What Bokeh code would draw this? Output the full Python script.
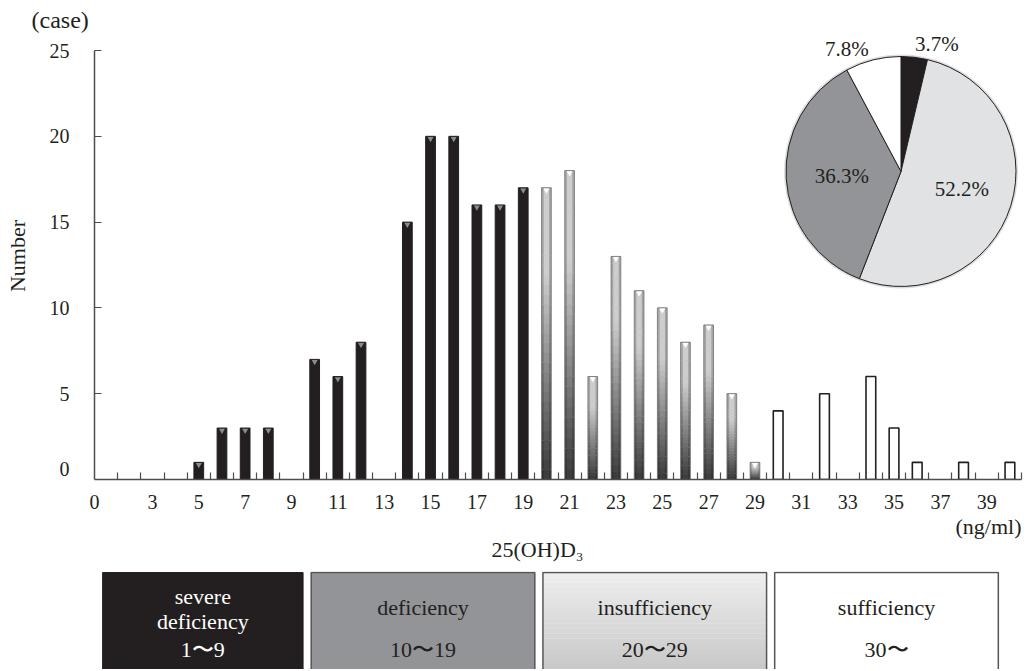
import numpy as np
from bokeh.plotting import figure
from bokeh.models import Range1d, FixedTicker, Label, Title, CustomJSTickFormatter
from bokeh.layouts import column
from bokeh.embed import file_html
from bokeh.resources import INLINE

# ---------------- data ----------------
levels = list(range(1, 41))  # 25(OH)D3 in ng/ml
counts = [0, 0, 0, 0, 1, 3, 3, 3, 0, 7,
          6, 8, 0, 15, 20, 20, 16, 16, 17, 17,
          18, 6, 13, 11, 10, 8, 9, 5, 1, 4,
          0, 5, 0, 6, 3, 1, 0, 1, 0, 1]
x_tick_values = list(range(3, 40, 2))
y_tick_values = [5, 10, 15, 20, 25]

gradient_from = 20   # bars from here are drawn with gradient
white_from = 30      # bars from here are drawn white

pie_labels = ["3.7%", "52.2%", "36.3%", "7.8%"]
pie_values = [3.7, 52.2, 36.3, 7.8]
pie_colors = ["#231f20", "#e1e2e4", "#939497", "#ffffff"]

group_names = [["severe", "deficiency"], ["deficiency"], ["insufficiency"], ["sufficiency"]]
group_ranges = ["1〜9", "10〜19", "20〜29", "30〜"]
group_lo = [1, 10, 20, 30]
group_hi = [9, 19, 29, 39]

# ---------------- style ----------------
FONT = "Liberation Serif"
TXT = "#231f20"
AX = "#4d4d4d"
BAR_W = 0.42
ZERO_LIFT = 0.6          # the y "0" label sits a little above the axis
Y_TOP = 26.05            # frame extends a bit above 25 (room for pie labels)

p = figure(frame_width=927, frame_height=447,
           x_range=Range1d(0.5, 40.5), y_range=Range1d(0, Y_TOP),
           output_backend="svg", toolbar_location=None,
           min_border_left=94, min_border_right=4,
           min_border_top=32, min_border_bottom=85)
p.outline_line_color = None
p.grid.visible = False
p.background_fill_color = "white"

# x axis
p.xaxis.ticker = FixedTicker(ticks=[0.5] + x_tick_values, minor_ticks=[k + 0.5 for k in levels])
p.xaxis.formatter = CustomJSTickFormatter(code="return tick < 1 ? '0' : String(tick);")
p.xaxis.major_tick_line_color = None
p.xaxis.minor_tick_in = 7
p.xaxis.minor_tick_out = 0
p.xaxis.minor_tick_line_color = AX
p.xaxis.minor_tick_line_width = 1.2
p.xaxis.axis_line_color = AX
p.xaxis.axis_line_width = 1.5
p.xaxis.major_label_standoff = 9
p.xaxis.major_label_text_font = FONT
p.xaxis.major_label_text_font_size = "20px"
p.xaxis.major_label_text_color = TXT

# y axis
p.yaxis.ticker = FixedTicker(ticks=[ZERO_LIFT] + y_tick_values, minor_ticks=y_tick_values)
p.yaxis.formatter = CustomJSTickFormatter(code="return tick < 1 ? '0' : String(tick);")
p.yaxis.bounds = (0, 25)
p.yaxis.major_tick_line_color = None
p.yaxis.minor_tick_in = 7
p.yaxis.minor_tick_out = 0
p.yaxis.minor_tick_line_color = AX
p.yaxis.minor_tick_line_width = 1.2
p.yaxis.axis_line_color = AX
p.yaxis.axis_line_width = 1.5
p.yaxis.major_label_standoff = 19
p.yaxis.major_label_text_font = FONT
p.yaxis.major_label_text_font_size = "20px"
p.yaxis.major_label_text_color = TXT
p.yaxis.axis_label = "Number"
p.yaxis.axis_label_standoff = 17
p.yaxis.axis_label_text_font = FONT
p.yaxis.axis_label_text_font_size = "22px"
p.yaxis.axis_label_text_font_style = "normal"
p.yaxis.axis_label_text_color = TXT

# titles (unit texts)
p.title.text = "(case)"
p.title.align = "left"
p.title.offset = -63
p.title.standoff = 0
p.title.text_font = FONT
p.title.text_font_size = "24px"
p.title.text_font_style = "normal"
p.title.text_color = TXT

p.add_layout(Title(text="(ng/ml)", align="right", offset=0, standoff=0,
                   text_font=FONT, text_font_size="22px", text_font_style="normal",
                   text_color=TXT), "below")
p.add_layout(Title(text="25(OH)D₃", align="left", offset=397, standoff=-8,
                   text_font=FONT, text_font_size="22px", text_font_style="normal",
                   text_color=TXT), "below")

# ---------------- bars ----------------
lv = np.array(levels)
ct = np.array(counts, dtype=float)
has = ct > 0
blk = has & (lv < gradient_from)
grd = has & (lv >= gradient_from) & (lv < white_from)
wht = has & (lv >= white_from)

# black bars
p.vbar(x=lv[blk], top=ct[blk], width=BAR_W, fill_color="#231f20", line_color="#231f20")
p.scatter(x=lv[blk], y=ct[blk] - 0.14, marker="inverted_triangle", size=6,
          fill_color="#8c8c8c", line_color=None)

# gradient bars (stacked strips, light at top, dark at bottom)
dark = np.array([0x3a, 0x3a, 0x3a])
light = np.array([0xcd, 0xcd, 0xcf])
nseg = 30
gx, gb, gt, gc_out, gc_in = [], [], [], [], []
for x, c in zip(lv[grd], ct[grd]):
    for i in range(nseg):
        t = (i + 0.5) / nseg
        f = min(1.0, t / 0.7)
        col = dark + (light - dark) * f
        col_o = col * 0.8
        gx.append(x)
        gb.append(c * i / nseg)
        gt.append(c * (i + 1) / nseg + 0.02)
        gc_in.append("#%02x%02x%02x" % tuple(int(v) for v in col))
        gc_out.append("#%02x%02x%02x" % tuple(int(v) for v in col_o))
p.vbar(x=gx, bottom=gb, top=gt, width=BAR_W, fill_color=gc_out, line_color=None)
p.vbar(x=gx, bottom=gb, top=gt, width=BAR_W * 0.55, fill_color=gc_in, line_color=None)
p.vbar(x=lv[grd], top=ct[grd], width=BAR_W, fill_color=None, line_color="#707070", line_width=0.8)
p.scatter(x=lv[grd], y=ct[grd] - 0.14, marker="inverted_triangle", size=6,
          fill_color="#ffffff", line_color=None)

# white bars
p.vbar(x=lv[wht], top=ct[wht], width=BAR_W, fill_color="white", line_color="#231f20", line_width=1.6)

# ---------------- pie ----------------
PIE_X, PIE_Y, PIE_R = 35.3, 17.95, 115
vals = np.array(pie_values) / sum(pie_values)
cum = np.concatenate([[0], np.cumsum(vals)])
starts = np.pi / 2 - cum[:-1] * 2 * np.pi
ends = np.pi / 2 - cum[1:] * 2 * np.pi
p.circle(x=[PIE_X], y=[PIE_Y], radius=PIE_R + 2, radius_units="screen",
         fill_color="#dddddd", line_color=None)
p.wedge(x=PIE_X, y=PIE_Y, radius=PIE_R, radius_units="screen",
        start_angle=starts, end_angle=ends, direction="clock",
        fill_color=pie_colors, line_color="#231f20", line_width=1)
pie_offsets = [(36, 127), (61, -18), (-59, -5), (-54, 122)]
for lab, (dx, dy) in zip(pie_labels, pie_offsets):
    p.add_layout(Label(x=PIE_X, y=PIE_Y, x_offset=dx, y_offset=dy, text=lab,
                       text_font=FONT, text_font_size="21px", text_color=TXT,
                       text_align="center", text_baseline="middle"))

# ---------------- category boxes ----------------
p2 = figure(frame_width=927, frame_height=98, x_range=p.x_range, y_range=Range1d(0, 98),
            output_backend="svg", toolbar_location=None,
            min_border_left=94, min_border_right=4, min_border_top=7, min_border_bottom=0,
            x_axis_location=None, y_axis_location=None)
p2.outline_line_color = None
p2.grid.visible = False

lefts = [lo - 0.15 for lo in group_lo]
rights = [hi + 0.5 for hi in group_hi]
box_top, box_bot = 97, -5

# box 1 black
p2.quad(left=lefts[0], right=rights[0], bottom=box_bot, top=box_top,
        fill_color="#231f20", line_color="#231f20")
# box 2 gray
p2.quad(left=lefts[1], right=rights[1], bottom=box_bot, top=box_top,
        fill_color="#939497", line_color="#555555", line_width=1.5)
# box 3 light gradient
nstr = 20
sb = [box_bot + (box_top - box_bot) * i / nstr for i in range(nstr)]
st = [box_bot + (box_top - box_bot) * (i + 1) / nstr + 0.3 for i in range(nstr)]
scol = []
for i in range(nstr):
    t = (i + 0.5) / nstr
    v = int(0xc6 + (0xee - 0xc6) * t)
    scol.append("#%02x%02x%02x" % (v, v, min(255, v + 1)))
p2.quad(left=lefts[2], right=rights[2], bottom=sb, top=st, fill_color=scol, line_color=None)
p2.quad(left=lefts[2], right=rights[2], bottom=box_bot, top=box_top,
        fill_color=None, line_color="#555555", line_width=1.5)
# box 4 white
p2.quad(left=lefts[3], right=rights[3], bottom=box_bot, top=box_top,
        fill_color="white", line_color="#555555", line_width=1.5)

for i in range(4):
    cx = (lefts[i] + rights[i]) / 2
    col = "white" if i == 0 else TXT
    names = group_names[i]
    ys = [73, 48] if len(names) == 2 else [62]
    for nm, yy in zip(names, ys):
        p2.add_layout(Label(x=cx, y=yy, text=nm, text_font=FONT, text_font_size="22px",
                            text_color=col, text_align="center", text_baseline="middle"))
    p2.add_layout(Label(x=cx, y=20, text=group_ranges[i], text_font=FONT, text_font_size="22px",
                        text_color=col, text_align="center", text_baseline="middle"))

layout = column(p, p2)
open("out.html", "w").write(file_html(layout, INLINE))
